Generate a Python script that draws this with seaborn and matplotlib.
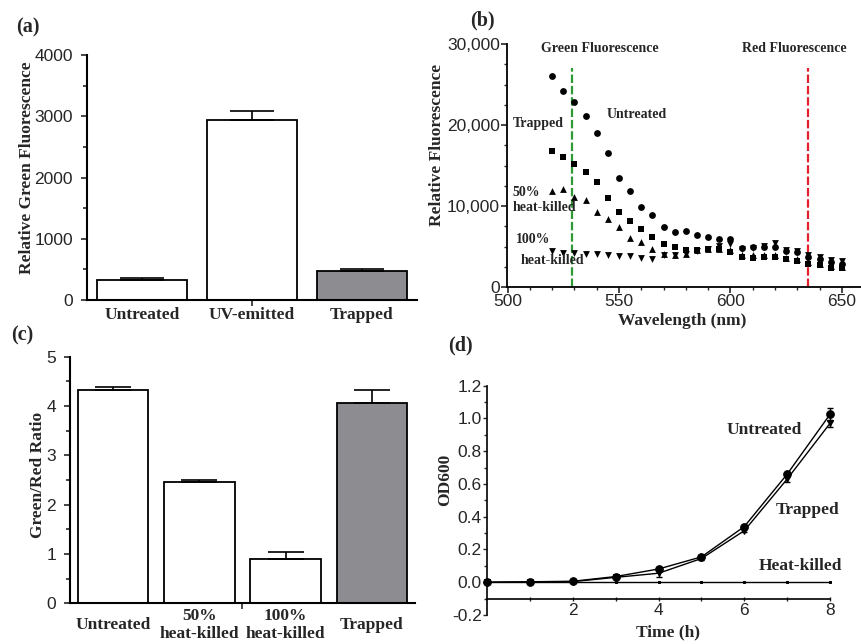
import numpy as np
import pandas as pd
import matplotlib
matplotlib.use("Agg")
import matplotlib.pyplot as plt
from matplotlib.ticker import MultipleLocator, StrMethodFormatter
import seaborn as sns

# ---------------- data ----------------
a_categories = ["Untreated", "UV-emitted", "Trapped"]
a_values = [320, 2940, 475]
a_errors = [45, 145, 27]

b_wavelength = [520, 525, 530, 535, 540, 545, 550, 555, 560, 565, 570, 575, 580, 585,
                590, 595, 600, 605, 610, 615, 620, 625, 630, 635, 640, 645, 650]
b_untreated = [26100, 24200, 22900, 21100, 19000, 16600, 13400, 11900, 9900, 8900, 7400,
               6800, 6900, 6400, 6200, 5900, 5900, 4800, 4900, 4900, 5000, 4500, 4300,
               3700, 3500, 3100, 2900]
b_trapped = [16850, 16100, 15150, 14250, 13000, 10950, 9250, 8200, 7100, 6200, 5250,
             4950, 4550, 4550, 4750, 4750, 4350, 3700, 3600, 3700, 3700, 3400, 3200,
             2900, 2700, 2400, 2300]
b_half_killed = [11900, 12100, 11150, 10800, 9300, 8400, 7450, 6050, 5600, 4750, 4100,
                 3900, 4100, 4600, 4750, 4750, 4550, 3900, 3900, 4000, 4000, 3600, 3400,
                 3100, 2900, 2600, 2500]
b_full_killed = [4400, 4250, 4250, 4100, 4050, 3900, 3850, 3850, 3600, 3500, 3900, 3900,
                 4050, 4450, 4750, 5050, 5250, 4750, 4850, 5050, 5450, 4600, 4450, 3900,
                 3700, 3300, 3200]
b_green_line = 529
b_red_line = 635

c_categories = ["Untreated", "50%\nheat-killed", "100%\nheat-killed", "Trapped"]
c_values = [4.32, 2.45, 0.90, 4.07]
c_errors = [0.07, 0.06, 0.15, 0.25]

d_time = [0, 1, 2, 3, 4, 5, 6, 7, 8]
d_untreated = [0.0, 0.003, 0.006, 0.035, 0.081, 0.155, 0.34, 0.66, 1.025]
d_untreated_err = [0.0, 0.0, 0.0, 0.005, 0.01, 0.01, 0.01, 0.01, 0.04]
d_trapped = [0.0, 0.002, 0.004, 0.03, 0.055, 0.145, 0.315, 0.63, 0.97]
d_trapped_err = [0.0, 0.0, 0.0, 0.005, 0.02, 0.01, 0.01, 0.015, 0.02]
d_heat_killed = [0.0, 0.0, 0.0, 0.0, 0.0, 0.0, 0.0, 0.0, 0.0]

# ---------------- style ----------------
sns.set_style("ticks")
plt.rcParams["font.family"] = ["Liberation Sans", "DejaVu Sans"]
plt.rcParams["axes.unicode_minus"] = False
SERIF = ["Liberation Serif", "DejaVu Serif"]
FS = 12.5
bold_kw = dict(fontfamily=SERIF, fontweight="bold")

fig = plt.figure(figsize=(8.62, 6.44), dpi=100)
W, H = 862.0, 644.0


def px_axes(left, top, right, bottom):
    return fig.add_axes([left / W, 1 - bottom / H, (right - left) / W, (bottom - top) / H])


def style_spines(ax, lw=1.5):
    sns.despine(ax=ax)
    for s in ("left", "bottom"):
        ax.spines[s].set_linewidth(lw)
        ax.spines[s].set_color("black")


def set_ylabel(ax, text, x, y):
    ax.set_ylabel(text, fontsize=FS, **bold_kw)
    ax.yaxis.label.set_verticalalignment("center")
    ax.yaxis.set_label_coords(x, y)


def set_xlabel(ax, text, x, y):
    ax.set_xlabel(text, fontsize=FS, **bold_kw)
    ax.xaxis.label.set_verticalalignment("center")
    ax.xaxis.set_label_coords(x, y)


# ---------------- (a) ----------------
axa = px_axes(87, 55, 417, 300)
a_colors = ["white", "white", "#8c8c91"]
sns.barplot(x=a_categories, y=a_values, hue=a_categories, palette=a_colors, legend=False,
            ax=axa, width=0.82, edgecolor="black", linewidth=1.3, saturation=1)
axa.errorbar(range(len(a_values)), a_values, yerr=[[0] * len(a_errors), a_errors],
             fmt="none", ecolor="black", elinewidth=1.2, capsize=15.5, capthick=1.2)
axa.set_xlim(-0.5, 2.5)
axa.set_ylim(0, 4000)
axa.yaxis.set_major_locator(MultipleLocator(1000))
axa.yaxis.set_minor_locator(MultipleLocator(500))
axa.set_xticks(range(3))
axa.set_xticklabels(a_categories, fontsize=FS, **bold_kw)
for t in axa.get_xticklabels():
    t.set_verticalalignment("center")
axa.xaxis.remove_overlapping_locs = False
axa.set_xticks([1], minor=True)
axa.tick_params(axis="x", which="major", length=0, pad=11)
axa.tick_params(axis="x", which="minor", length=4, width=1.2, direction="out")
axa.tick_params(axis="y", which="major", length=4, width=1.2, labelsize=FS, pad=6)
axa.tick_params(axis="y", which="minor", length=3, width=1.2)
style_spines(axa)
set_ylabel(axa, "Relative Green Fluorescence", -0.182, 0.539)
axa.set_xlabel("")

# ---------------- (b) ----------------
axb = px_axes(507.5, 44, 862, 287)
series = [(b_untreated, "o"), (b_trapped, "s"), (b_half_killed, "^"), (b_full_killed, "v")]
for vals, mk in series:
    sns.scatterplot(x=b_wavelength, y=vals, marker=mk, color="black", s=24,
                    linewidth=0, ax=axb, zorder=3)
axb.set_xlim(500, 659)
axb.set_ylim(0, 30000)
axb.plot([b_green_line, b_green_line], [0, 27000], color="#2f9a35", lw=1.6,
         dashes=(3.8, 1.3), zorder=2)
axb.plot([b_red_line, b_red_line], [0, 27000], color="#e3202b", lw=1.6,
         dashes=(3.8, 1.3), zorder=2)
axb.xaxis.set_major_locator(MultipleLocator(50))
axb.xaxis.set_minor_locator(MultipleLocator(10))
axb.yaxis.set_major_locator(MultipleLocator(10000))
axb.yaxis.set_minor_locator(MultipleLocator(2500))
axb.yaxis.set_major_formatter(StrMethodFormatter("{x:,.0f}"))
axb.tick_params(which="major", length=4, width=1.2, labelsize=FS)
axb.tick_params(which="minor", length=2.5, width=1.0)
axb.tick_params(axis="x", pad=1)
axb.tick_params(axis="y", pad=1.5)
style_spines(axb, lw=1.3)
set_ylabel(axb, "Relative Fluorescence", -0.199, 0.584)
set_xlabel(axb, "Wavelength (nm)", 0.492, -0.14)
tb = dict(fontsize=10, ha="center", va="center", **bold_kw)
axb.text(541.5, 29400, "Green Fluorescence", **tb)
axb.text(628.5, 29400, "Red Fluorescence", **tb)
axb.text(558, 21300, "Untreated", **tb)
axb.text(513.7, 20150, "Trapped", **tb)
axb.text(502.3, 11650, "50%", fontsize=10, ha="left", va="center", **bold_kw)
axb.text(502.3, 9830, "heat-killed", fontsize=10, ha="left", va="center", **bold_kw)
axb.text(511.5, 5900, "100%", **tb)
axb.text(520, 3300, "heat-killed", **tb)

# ---------------- (c) ----------------
axc = px_axes(70, 356.7, 415, 603.3)
c_colors = ["white", "white", "white", "#8c8c91"]
sns.barplot(x=c_categories, y=c_values, hue=c_categories, palette=c_colors, legend=False,
            ax=axc, width=0.82, edgecolor="black", linewidth=1.3, saturation=1)
axc.errorbar(range(len(c_values)), c_values, yerr=[[0] * len(c_errors), c_errors],
             fmt="none", ecolor="black", elinewidth=1.2, capsize=13.3, capthick=1.2)
axc.set_xlim(-0.5, 3.5)
axc.set_ylim(0, 5)
axc.yaxis.set_major_locator(MultipleLocator(1))
axc.yaxis.set_minor_locator(MultipleLocator(0.5))
axc.set_xticks(range(4))
axc.set_xticklabels(c_categories, fontsize=FS, linespacing=1.2, **bold_kw)
for t in axc.get_xticklabels():
    t.set_verticalalignment("center")
axc.set_xticks([1.5], minor=True)
axc.tick_params(axis="x", which="major", length=0, pad=15.5)
axc.tick_params(axis="x", which="minor", length=4, width=1.2, direction="out")
axc.tick_params(axis="y", which="major", length=4, width=1.2, labelsize=FS, pad=6)
axc.tick_params(axis="y", which="minor", length=3, width=1.2)
style_spines(axc)
set_ylabel(axc, "Green/Red Ratio", -0.093, 0.52)
axc.set_xlabel("")

# ---------------- (d) ----------------
axd = px_axes(487.3, 385.7, 830, 615)
sns.lineplot(x=d_time, y=d_heat_killed, color="black", marker="s", markersize=1.6,
             markeredgecolor="black", linewidth=1.0, ax=axd, clip_on=False, zorder=3)
axd.errorbar(d_time, d_trapped, yerr=d_trapped_err, fmt="none", ecolor="black",
             elinewidth=1.0, capsize=2.5, capthick=1.0, clip_on=False)
axd.errorbar(d_time, d_untreated, yerr=d_untreated_err, fmt="none", ecolor="black",
             elinewidth=1.0, capsize=2.5, capthick=1.0, clip_on=False)
sns.lineplot(x=d_time, y=d_trapped, color="black", marker="v", markersize=4,
             markeredgecolor="black", linewidth=1.0, ax=axd, clip_on=False, zorder=4)
sns.lineplot(x=d_time, y=d_untreated, color="black", marker="o", markersize=5.5,
             markeredgecolor="black", linewidth=1.0, ax=axd, clip_on=False, zorder=5)
axd.set_xlim(0, 8)
axd.set_ylim(-0.2, 1.2)
axd.spines["bottom"].set_position(("data", -0.1))
axd.set_xticks([2, 4, 6, 8])
axd.set_xticks([1, 3, 5, 7], minor=True)
axd.yaxis.set_major_locator(MultipleLocator(0.2))
axd.yaxis.set_minor_locator(MultipleLocator(0.1))
axd.yaxis.set_major_formatter(StrMethodFormatter("{x:.1f}"))
axd.tick_params(axis="x", which="both", length=3, width=1.0, direction="inout",
                labelsize=FS, pad=2)
axd.tick_params(axis="y", which="major", length=3, width=1.0, labelsize=FS, pad=1)
axd.tick_params(axis="y", which="minor", length=2, width=1.0)
style_spines(axd, lw=1.2)
set_ylabel(axd, "OD600", -0.123, 0.589)
set_xlabel(axd, "Time (h)", 0.527, -0.074)
td = dict(fontsize=FS, ha="center", va="center", **bold_kw)
axd.text(6.47, 0.93, "Untreated", **td)
axd.text(7.48, 0.44, "Trapped", **td)
axd.text(7.3, 0.10, "Heat-killed", **td)

# ---------------- panel letters ----------------
pl = dict(fontsize=14.5, ha="center", va="center", **bold_kw)
fig.text(28 / W, 1 - 27 / H, "(a)", **pl)
fig.text(482 / W, 1 - 20 / H, "(b)", **pl)
fig.text(22 / W, 1 - 335 / H, "(c)", **pl)
fig.text(460 / W, 1 - 345 / H, "(d)", **pl)

fig.savefig("out.png", dpi=100)
